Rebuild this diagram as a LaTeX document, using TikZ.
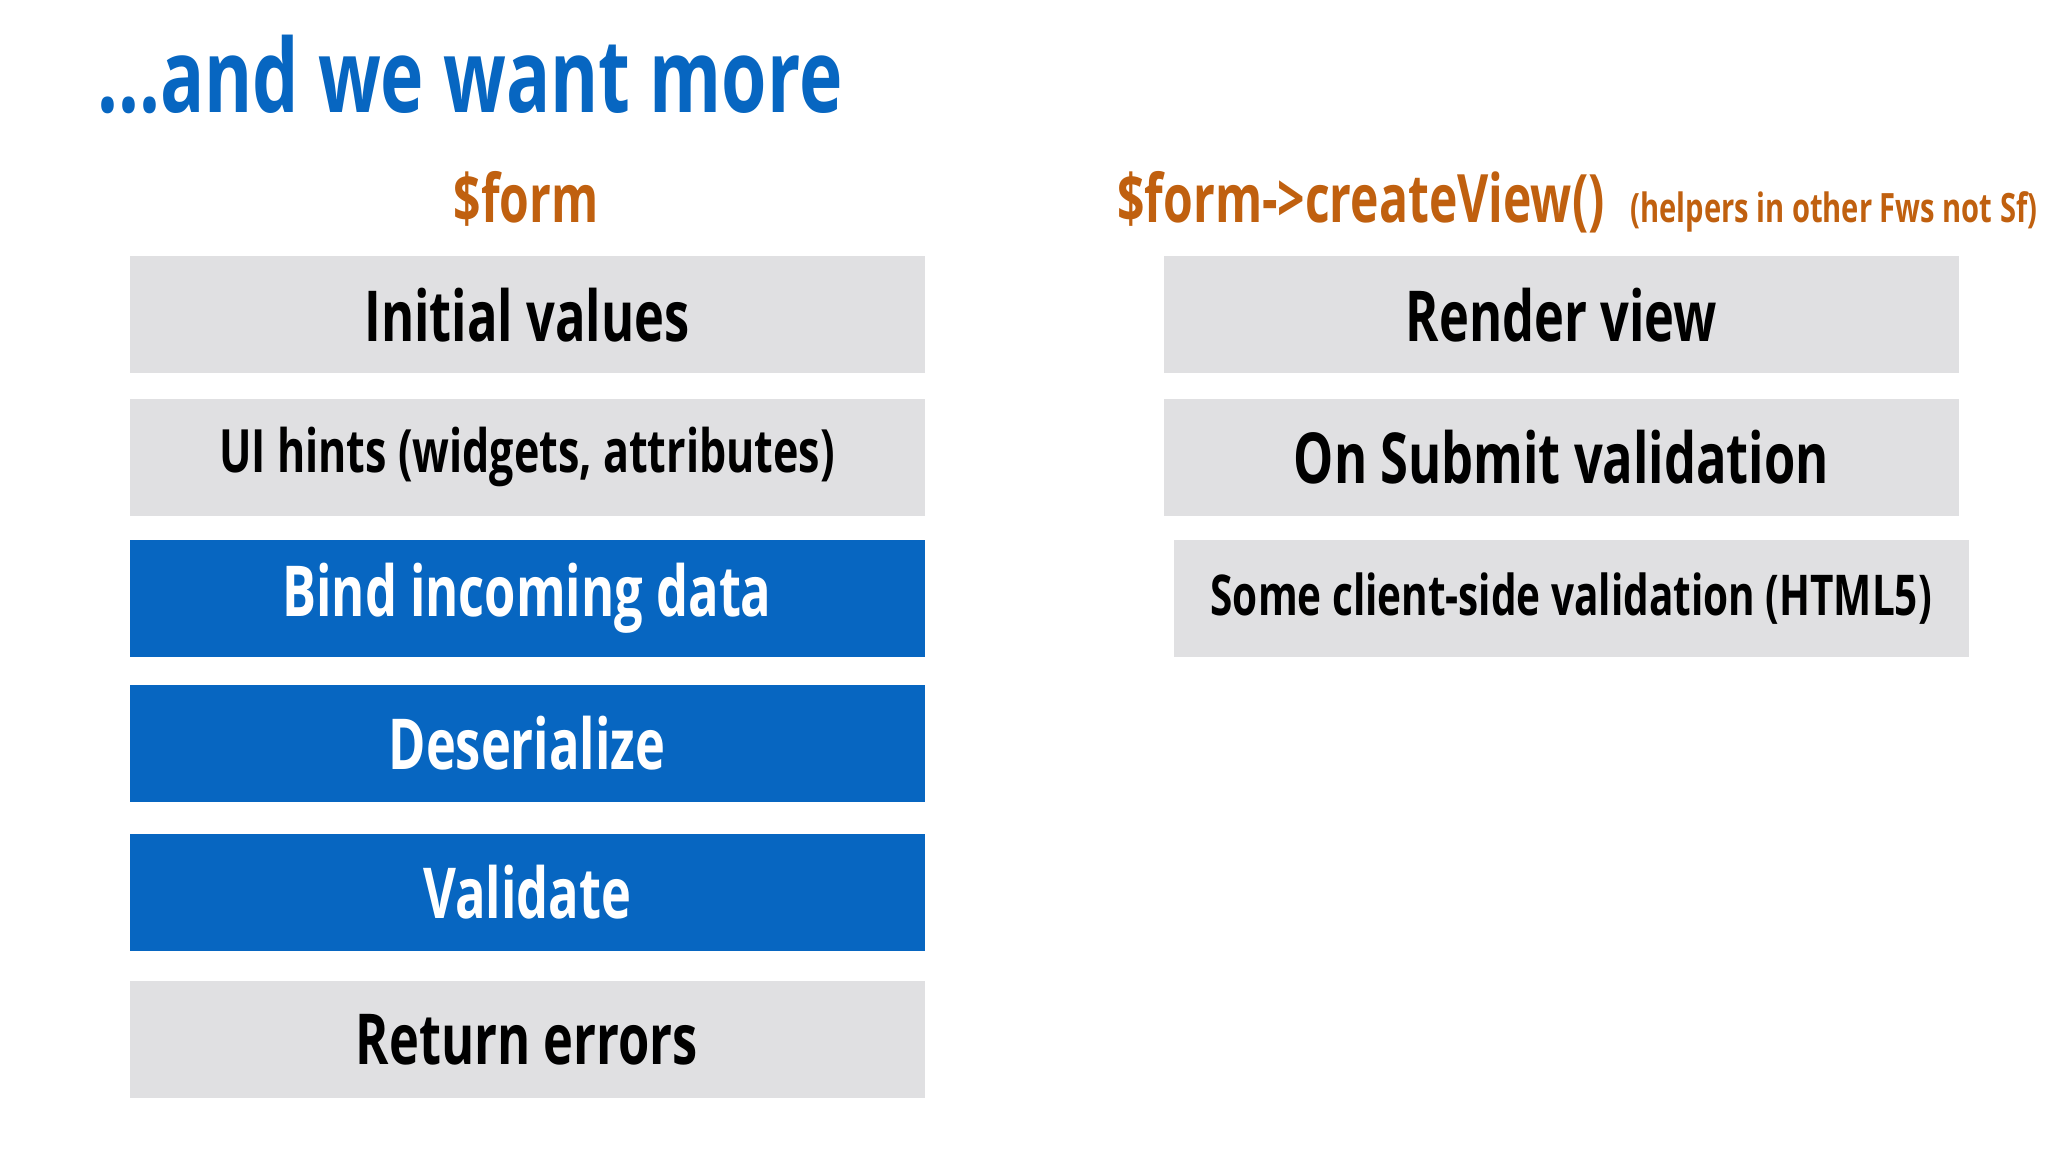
\documentclass[tikz,border=0pt]{standalone}
\usepackage{fontspec}
\setmainfont{Open Sans}[FakeStretch=0.72]
\usetikzlibrary{positioning}
\definecolor{slideblue}{HTML}{0766C1}
\definecolor{slidegray}{HTML}{E0E0E2}
\definecolor{slideorange}{HTML}{C0600F}
\tikzset{
  step box/.style={ % grey step of the form
    rectangle, fill=slidegray, minimum width=7.95cm, minimum height=1.17cm,
    inner sep=0pt, font=\bfseries\fontsize{20}{24}\selectfont, text=black
  },
  blue box/.style={ % highlighted step
    step box, fill=slideblue, text=white
  },
  header/.style={
    font=\bfseries\fontsize{19}{22}\selectfont, text=slideorange
  }
}
\begin{document}
\begin{tikzpicture}[x=0.013061cm, y=-0.013061cm]
  \useasboundingbox[fill=white] (0,0) rectangle (1568,882);
  \node[anchor=base west, text=slideblue, font=\bfseries\fontsize{29}{34}\selectfont, inner sep=0pt] (title) at (74,86) {...and we want more};

  \node[header, anchor=base] (form) at (403,170) {\$form};
  \node[header, anchor=base] (view) at (1042,170) {\$form->createView()};
  \node[anchor=base west, text=slideorange, font=\bfseries\fontsize{11.5}{14}\selectfont, inner sep=0pt] (note) at (1248,170) {(helpers in other Fws not Sf)};

  \node[step box] (initial) at (403.5,241) {Initial values};
  \node[step box, font=\bfseries\fontsize{17}{20}\selectfont] (hints) at (403.5,350) {UI hints (widgets, attributes)};
  \node[blue box] (bind) at (403.5,458) {Bind incoming data};
  \node[blue box] (deser) at (403.5,569) {Deserialize};
  \node[blue box] (valid) at (403.5,683) {Validate};
  \node[step box] (errors) at (403.5,796) {Return errors};

  \node[step box] (render) at (1195.5,241) {Render view};
  \node[step box] (submit) at (1195.5,350) {On Submit validation};
  \node[step box, font=\bfseries\fontsize{16}{19}\selectfont] (client) at (1203,458) {Some client-side validation (HTML5)};
\end{tikzpicture}
\end{document}
